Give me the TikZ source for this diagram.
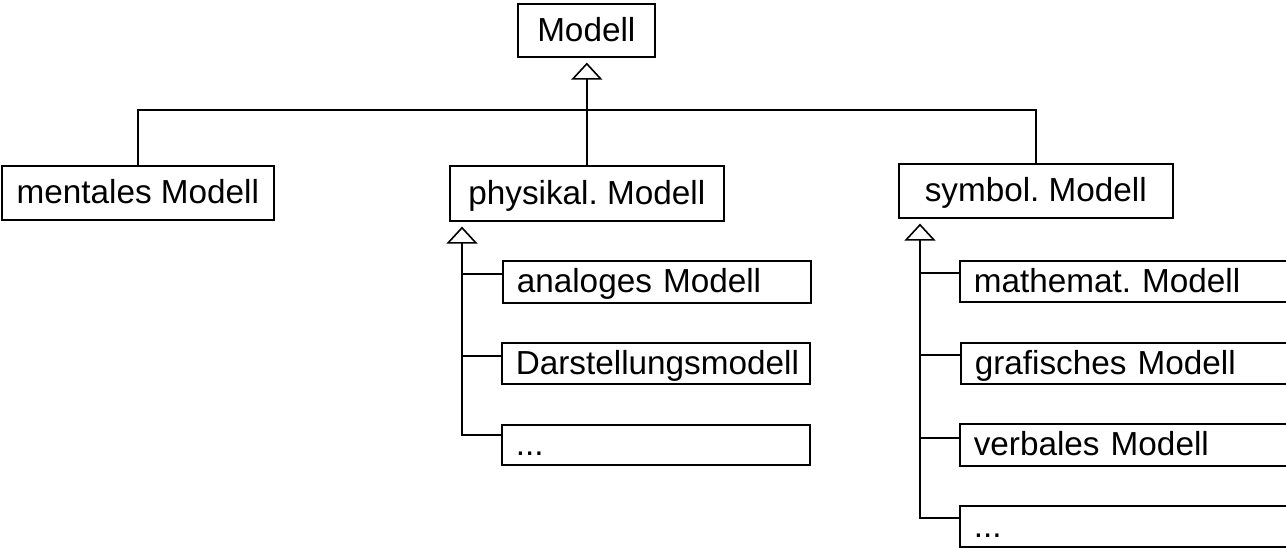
\documentclass[tikz,border=0pt]{standalone}
\usepackage{fontspec}
\setmainfont{Liberation Sans}
\usetikzlibrary{arrows.meta}
\frenchspacing
\begin{document}
\begin{tikzpicture}[x=1pt,y=-1pt,
  every node/.style={font=\fontsize{33.3}{40}\selectfont},
  box/.style={draw, line width=1.6pt, anchor=north west, inner ysep=0pt,
    text height=24pt, text depth=2pt},
  headbox/.style={box, inner xsep=0pt, align=center},
  leftbox/.style={box, inner xsep=14pt, align=left, text width=#1},
  conn/.style={line width=1.6pt},
  inherit/.style={conn, -{Triangle[open, width=31pt, length=17pt, fill=white]}, shorten >=5pt}
]
\useasboundingbox (0,0) rectangle (1286,547);
\clip (0,0) rectangle (1286,547);

% top level
\node[headbox, minimum width=137pt, minimum height=53pt] (modell) at (517,3) {Modell};
\node[headbox, minimum width=272pt, minimum height=54pt] (ment) at (1,165) {mentales Modell};
\node[headbox, minimum width=274pt, minimum height=55pt] (phys) at (449,165) {physikal. Modell};
\node[headbox, minimum width=274pt, minimum height=54pt] (sym) at (898,163) {symbol. Modell};

% physical sub-models
\node[leftbox=280pt, minimum height=42pt] (p1) at (502,260) {analoges Modell};
\node[leftbox=280pt, minimum height=41pt] (p2) at (501,342) {Darstellungsmodell};
\node[leftbox=280pt, minimum height=40pt] (p3) at (501,424) {...};

% symbolic sub-models
\node[leftbox=312pt, minimum height=41pt] (s1) at (959,260) {mathemat. Modell};
\node[leftbox=312pt, minimum height=41pt] (s2) at (960,342) {grafisches Modell};
\node[leftbox=312pt, minimum height=42pt] (s3) at (959,423) {verbales Modell};
\node[leftbox=312pt, minimum height=41pt] (s4) at (959,505) {...};

% generalisation to Modell
\coordinate (bus) at (586,110);
\draw[conn] (ment.north) |- (bus) -| (sym.north);
\draw[inherit] (phys.north) -- (phys.north |- modell.south);

% physical branch
\coordinate (pspine) at ([xshift=13pt]phys.south west);
\path ([yshift=-14pt]p1.north west) coordinate (ph1)
      ([yshift=-14pt]p2.north west) coordinate (ph2)
      ([yshift=-11pt]p3.north west) coordinate (ph3);
\draw[inherit] (ph3) -| (pspine);
\draw[conn] (ph1) -- (ph1 -| pspine);
\draw[conn] (ph2) -- (ph2 -| pspine);

% symbolic branch
\coordinate (sspine) at ([xshift=22pt]sym.south west);
\path ([yshift=-13pt]s1.north west) coordinate (sh1)
      ([yshift=-13pt]s2.north west) coordinate (sh2)
      ([yshift=-15pt]s3.north west) coordinate (sh3)
      ([yshift=-13pt]s4.north west) coordinate (sh4);
\draw[inherit] (sh4) -| (sspine);
\draw[conn] (sh1) -- (sh1 -| sspine);
\draw[conn] (sh2) -- (sh2 -| sspine);
\draw[conn] (sh3) -- (sh3 -| sspine);
\end{tikzpicture}
\end{document}
